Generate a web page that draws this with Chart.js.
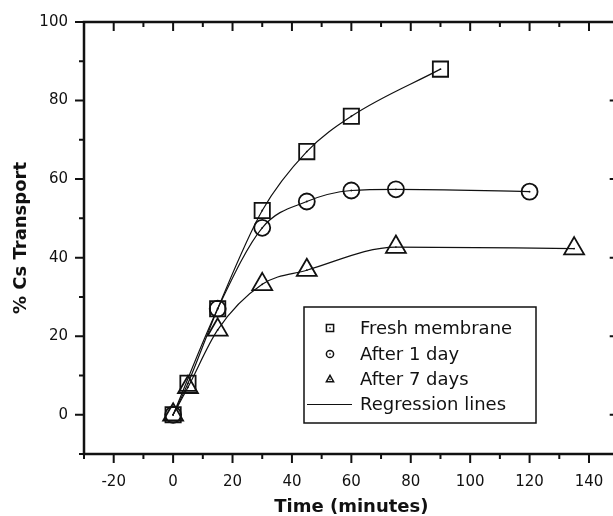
<!DOCTYPE html>
<html>
<head>
<meta charset="utf-8">
<script src="https://cdn.jsdelivr.net/npm/chart.js@4/dist/chart.umd.min.js"></script>
<style>
  html, body { margin: 0; padding: 0; background: #fff; overflow: hidden; }
  canvas { display: block; }
</style>
</head>
<body>
<canvas id="grafico" width="632" height="516"></canvas>
<script>
// valores
const tempoFresh = [0, 5, 15, 30, 45, 60, 90];
const fresh = [0, 8, 27, 52, 67, 76, 88];
const tempo1Dia = [0, 15, 30, 45, 60, 75, 120];
const apos1Dia = [0, 27, 47.6, 54.3, 57.1, 57.4, 56.8];
const tempo7Dias = [0, 5, 15, 30, 45, 75, 135];
const apos7Dias = [0, 7, 21.6, 33.2, 36.8, 42.7, 42.3];

const xTicksLabel = [-20, 0, 20, 40, 60, 80, 100, 120, 140];
const yTicksLabel = [0, 20, 40, 60, 80, 100];
const legendaTextos = ["Fresh membrane", "After 1 day", "After 7 days", "Regression lines"];

const FONTE = "'DejaVu Sans', sans-serif";
const PRETO = "#111";

function pontos(xs, ys) {
  return xs.map((x, i) => ({ x: x, y: ys[i] }));
}

function serieMarcador(xs, ys, estilo, raio) {
  return {
    data: pontos(xs, ys),
    showLine: false,
    pointStyle: estilo,
    pointRadius: raio,
    pointHoverRadius: raio,
    pointBorderWidth: 1.8,
    pointBorderColor: PRETO,
    pointBackgroundColor: "transparent"
  };
}

function serieLinha(xs, ys) {
  return {
    data: pontos(xs, ys),
    showLine: true,
    borderColor: PRETO,
    borderWidth: 1.2,
    cubicInterpolationMode: "monotone",
    pointRadius: 0.9,
    pointBorderWidth: 0,
    pointBackgroundColor: PRETO
  };
}

function desenhaMarcador(ctx, estilo, x, y, r) {
  ctx.beginPath();
  if (estilo === "rect") {
    ctx.rect(x - r, y - r, 2 * r, 2 * r);
  } else if (estilo === "circle") {
    ctx.arc(x, y, r, 0, Math.PI * 2);
  } else {
    ctx.moveTo(x, y - r * 1.15);
    ctx.lineTo(x + r * 1.0, y + r * 0.6);
    ctx.lineTo(x - r * 1.0, y + r * 0.6);
    ctx.closePath();
  }
  ctx.stroke();
  ctx.fillRect(x - 0.7, y - 0.7, 1.4, 1.4);
}

const moldura = {
  id: "moldura",
  afterDraw(chart) {
    const ctx = chart.ctx;
    const a = chart.chartArea;
    const sx = chart.scales.x;
    const sy = chart.scales.y;
    ctx.save();
    ctx.strokeStyle = PRETO;
    ctx.fillStyle = PRETO;

    // ticks
    ctx.lineWidth = 2;
    sx.ticks.forEach(t => {
      const px = sx.getPixelForValue(t.value);
      const len = xTicksLabel.includes(t.value) ? 9 : 5;
      ctx.beginPath();
      ctx.moveTo(px, a.bottom); ctx.lineTo(px, a.bottom + len);
      ctx.moveTo(px, a.top); ctx.lineTo(px, a.top + len);
      ctx.stroke();
    });
    sy.ticks.forEach(t => {
      const py = sy.getPixelForValue(t.value);
      const len = yTicksLabel.includes(t.value) ? 9 : 5;
      ctx.beginPath();
      ctx.moveTo(a.left - len, py); ctx.lineTo(a.left, py);
      ctx.moveTo(a.right - len, py); ctx.lineTo(a.right, py);
      ctx.stroke();
    });

    // caixa do grafico
    ctx.lineWidth = 2.5;
    ctx.strokeRect(a.left, a.top, a.right - a.left, a.bottom - a.top);

    // legenda
    const bx = 304, by = 307, bw = 232, bh = 116;
    ctx.lineWidth = 1.5;
    ctx.strokeRect(bx, by, bw, bh);
    const linhas = [328, 354, 379.5, 404.5];
    const estilos = ["rect", "circle", "triangle"];
    ctx.font = "18px " + FONTE;
    ctx.textBaseline = "middle";
    ctx.textAlign = "left";
    legendaTextos.forEach((txt, i) => {
      const cy = linhas[i];
      ctx.lineWidth = 1.5;
      if (i < 3) {
        desenhaMarcador(ctx, estilos[i], 330, cy, 3.6);
      } else {
        ctx.lineWidth = 1.2;
        ctx.beginPath();
        ctx.moveTo(307, cy); ctx.lineTo(352, cy);
        ctx.stroke();
      }
      ctx.fillText(txt, 360, cy + 1);
    });
    ctx.restore();
  }
};

const ctx = document.getElementById("grafico").getContext("2d");

new Chart(ctx, {
  type: "scatter",
  data: {
    datasets: [
      serieLinha(tempoFresh, fresh),
      serieLinha(tempo1Dia, apos1Dia),
      serieLinha(tempo7Dias, apos7Dias),
      serieMarcador(tempoFresh, fresh, "rect", 10.8),
      serieMarcador(tempo1Dia, apos1Dia, "circle", 8),
      serieMarcador(tempo7Dias, apos7Dias, "triangle", 11.5)
    ]
  },
  options: {
    responsive: false,
    animation: false,
    devicePixelRatio: 1,
    layout: { padding: { left: 0, top: 22, right: 8, bottom: 0 } },
    plugins: {
      legend: { display: false },
      tooltip: { enabled: false }
    },
    scales: {
      x: {
        type: "linear",
        min: -30,
        max: 150,
        afterFit: s => { s.height = 62; },
        border: { display: false },
        grid: { display: false, drawTicks: true, tickLength: 9 },
        ticks: {
          stepSize: 10,
          autoSkip: false,
          maxRotation: 0,
          padding: 10,
          color: PRETO,
          font: { family: FONTE, size: 15 },
          callback: v => xTicksLabel.includes(v) ? String(v) : ""
        },
        title: {
          display: true,
          text: "Time (minutes)",
          color: PRETO,
          font: { family: FONTE, size: 18, weight: "bold", lineHeight: 1 },
          padding: { top: 0, bottom: 0 }
        }
      },
      y: {
        type: "linear",
        min: -10,
        max: 100,
        afterFit: s => { s.width = 84; },
        border: { display: false },
        grid: { display: false, drawTicks: true, tickLength: 9 },
        ticks: {
          stepSize: 10,
          autoSkip: false,
          padding: 7,
          color: PRETO,
          font: { family: FONTE, size: 15 },
          callback: v => yTicksLabel.includes(v) ? String(v) : ""
        },
        title: {
          display: true,
          text: "% Cs Transport",
          color: PRETO,
          font: { family: FONTE, size: 18, weight: "bold", lineHeight: 1 },
          padding: { top: 12, bottom: 0 }
        }
      }
    }
  },
  plugins: [moldura]
});
</script>
</body>
</html>
